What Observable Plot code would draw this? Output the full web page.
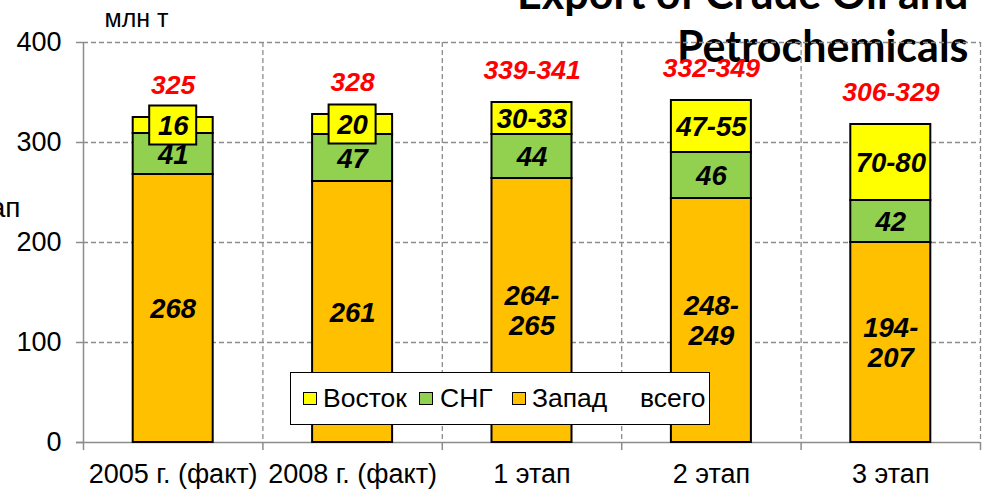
<!DOCTYPE html>
<html><head><meta charset="utf-8">
<script src="https://cdn.jsdelivr.net/npm/d3@7"></script>
<script src="https://cdn.jsdelivr.net/npm/@observablehq/plot@0.6"></script>
<style>
body{margin:0;background:#fff;}
#wrap{position:relative;width:986px;height:491px;overflow:hidden;font-family:"Liberation Sans",Arial,sans-serif;}
#chart{position:absolute;left:0;top:0;}
#legend{position:absolute;left:290px;top:372px;width:420px;height:53px;box-sizing:border-box;border:1.5px solid #000;background:#fff;font-size:26.5px;color:#000;}
.sw{position:absolute;top:19px;width:14px;height:13px;box-sizing:border-box;border:1.5px solid #000;}
.lt{position:absolute;top:0;line-height:50px;white-space:nowrap;}
</style></head>
<body>
<div id="wrap"><div id="chart"></div><div id="legend"></div></div>
<script>
const categories = ["2005 г. (факт)", "2008 г. (факт)", "1 этап", "2 этап", "3 этап"];
const seriesNames = ["Запад", "СНГ", "Восток"];
const seriesColors = ["#FFC000", "#92D050", "#FFFF00"];
const zapad = [268, 261, 264, 244, 200];
const sng = [41, 47, 44, 46, 42];
const vostok = [16, 20, 32, 52, 76];
const zapadLabels = ["268", "261", "264-\n265", "248-\n249", "194-\n207"];
const sngLabels = ["41", "47", "44", "46", "42"];
const vostokLabels = ["16", "20", "30-33", "47-55", "70-80"];
const totalLabels = ["325", "328", "339-341", "332-349", "306-329"];
const boxedCategories = ["2005 г. (факт)", "2008 г. (факт)"];
const yTicks = [0, 100, 200, 300, 400];
const gridTicks = [100, 200, 300, 400];
const titleText = "Export of Crude Oil and\nPetrochemicals";
const unitText = "млн т";
const cutText = "ап";
const totalName = "всего";

const W = 986, H = 491, mL = 83, mR = 6, mT = 42, mB = 49;
const step = (W - mL - mR) / categories.length;

const rows = categories.flatMap((c, i) => [
  {cat: c, series: seriesNames[0], value: zapad[i], label: zapadLabels[i]},
  {cat: c, series: seriesNames[1], value: sng[i], label: sngLabels[i]},
  {cat: c, series: seriesNames[2], value: vostok[i], label: vostokLabels[i]}
]);
const totals = categories.map((c, i) => zapad[i] + sng[i] + vostok[i]);
const boxes = categories.map((c, i) => ({cat: c, mid: zapad[i] + sng[i] + vostok[i] / 2}))
  .filter(d => boxedCategories.includes(d.cat));

const grid = {stroke: "#8c8c8c", strokeWidth: 1.3, strokeDasharray: "5,3"};
const solid = {stroke: "#8c8c8c", strokeWidth: 1.5};
const lbl = {fontWeight: "bold", fontStyle: "italic", fontFamily: "Liberation Sans, Arial, sans-serif"};

const plot = Plot.plot({
  width: W, height: H,
  marginLeft: mL, marginRight: mR, marginTop: mT, marginBottom: mB,
  style: {fontFamily: "Liberation Sans, Arial, sans-serif", fontSize: "27px", color: "#000", background: "transparent", overflow: "visible"},
  x: {domain: categories, paddingInner: 0.554, paddingOuter: 0.277, round: false, label: null},
  y: {domain: [0, 400], label: null},
  color: {domain: seriesNames, range: seriesColors},
  marks: [
    Plot.text([titleText], {frameAnchor: "top-right", text: d => d, textAnchor: "end", lineAnchor: "bottom", lineHeight: 1.21, dx: -12, dy: 19, fontSize: 43, fontWeight: "bold", fontFamily: "Lato, sans-serif", fill: "#000"}),
    Plot.ruleY(gridTicks, grid),
    Plot.ruleX(categories.slice(1), {x: d => d, y1: 400, y2: 0, dx: -step / 2, ...grid}),
    Plot.ruleX(categories.slice(-1), {x: d => d, y1: 400, y2: 0, dx: step / 2, ...grid}),
    Plot.ruleX(categories, {x: d => d, y1: 400, y2: 0, dx: -step / 2, insetTop: 400, insetBottom: -8, ...solid}),
    Plot.ruleX(categories.slice(-1), {x: d => d, y1: 400, y2: 0, dx: step / 2, insetTop: 400, insetBottom: -8, ...solid}),
    Plot.ruleX(categories.slice(0, 1), {x: d => d, y1: 400, y2: 0, dx: -step / 2, ...solid}),
    Plot.ruleY([0], {...solid, insetLeft: -7}),
    Plot.axisY(yTicks, {tickSize: 7, tickPadding: 15, fontSize: 27, stroke: "#8c8c8c", strokeWidth: 1.5}),
    Plot.axisX({tickSize: 0, tickPadding: 21, fontSize: 27}),
    Plot.barY(rows, Plot.stackY({x: "cat", y: "value", fill: "series", stroke: "#000", strokeWidth: 2})),
    Plot.barY(boxes, {x: "cat", y1: "mid", y2: "mid", insetLeft: 16.5, insetRight: 16.5, insetTop: -19.5, insetBottom: -19.5, fill: seriesColors[2], stroke: "#000", strokeWidth: 2}),
    Plot.text(rows, Plot.stackY({x: "cat", y: "value", text: "label", lineHeight: 1.1, fill: "#000", fontSize: 27.5, ...lbl})),
    Plot.text(categories, {x: d => d, y: (d, i) => totals[i], text: (d, i) => totalLabels[i], dy: -24, lineAnchor: "bottom", fill: "#FF0000", fontSize: 26.5, ...lbl}),
    Plot.text([unitText], {frameAnchor: "top-left", text: d => d, textAnchor: "start", lineAnchor: "bottom", dx: 21, dy: -16, fontSize: 25, fill: "#000"}),
    Plot.text([cutText], {frameAnchor: "left", text: d => d, textAnchor: "end", lineAnchor: "bottom", dx: -63, dy: -26, fontSize: 28, fill: "#000"})
  ]
});
document.getElementById("chart").appendChild(plot);

const legend = document.getElementById("legend");
const items = [
  {name: seriesNames[2], color: seriesColors[2], sw: 12, tx: 32},
  {name: seriesNames[1], color: seriesColors[1], sw: 128, tx: 149},
  {name: seriesNames[0], color: seriesColors[0], sw: 221, tx: 241},
  {name: totalName, color: null, sw: null, tx: 349}
];
for (const it of items) {
  if (it.color) {
    const s = document.createElement("div");
    s.className = "sw"; s.style.left = it.sw + "px"; s.style.background = it.color;
    legend.appendChild(s);
  }
  const t = document.createElement("div");
  t.className = "lt"; t.style.left = it.tx + "px"; t.textContent = it.name;
  legend.appendChild(t);
}
</script>
</body></html>
